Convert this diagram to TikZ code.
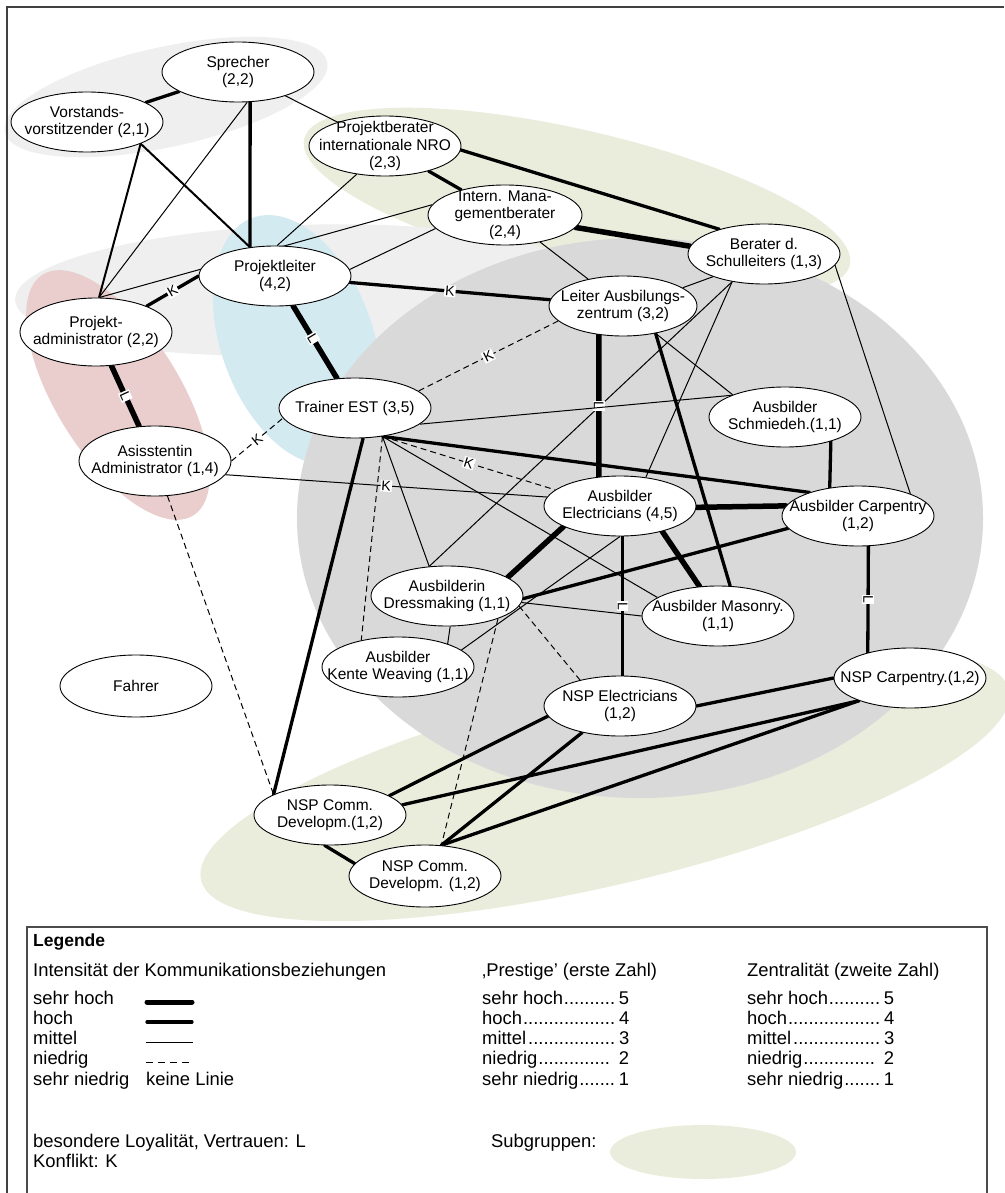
\documentclass[tikz,border=0pt]{standalone}
\usepackage{fontspec}
\setmainfont{Liberation Sans}
\usetikzlibrary{shapes.geometric}

\definecolor{sgolive}{RGB}{234,237,220}
\definecolor{sgpink}{RGB}{234,205,205}
\definecolor{sgblue}{RGB}{211,234,240}
\definecolor{sglight}{RGB}{239,239,239}
\definecolor{sggray}{RGB}{217,217,217}

\pgfdeclarelayer{blobs}
\pgfdeclarelayer{links}
\pgfsetlayers{blobs,links,main}

% one actor: an ellipse of fixed size plus its centred caption
\newcommand\person[4][]{%
  \node[person,#1] (#2) at (#3) {};
  \node[ptext] (#2-t) at (#2.center) {#4};}
% legend scale entry with dot leaders
\newcommand\legrow[2]{\hbox to 147pt{#1\leaders\hbox{.}\hfill#2}}

\tikzset{
  person/.style={ellipse, draw=black, line width=0.9pt, fill=white,
    minimum width=152pt, minimum height=60pt, inner sep=0pt},
  ptext/.style={align=center, inner sep=0pt, font=\fontsize{15.5}{17.5}\selectfont},
  vhigh/.style={line width=5.5pt, line cap=round},
  high/.style={line width=3.3pt, line cap=round},
  medhigh/.style={line width=2pt},
  mid/.style={line width=1pt},
  low/.style={line width=1pt, dash pattern=on 6pt off 4pt},
  lbl/.style={fill=white, inner sep=1pt, font=\fontsize{14}{14}\selectfont},
  legtxt/.style={anchor=west, inner sep=0pt, text height=13pt, text depth=4pt,
    font=\fontsize{18.4}{20}\selectfont},
  frameline/.style={draw=black!75, line width=1.8pt},
  legframe/.style={draw=black!70, line width=1.1pt},
}

\begin{document}
\begin{tikzpicture}[x=1pt,y=-1pt]
\useasboundingbox (0,0) rectangle (1004,1193);

% ---------- subgroups ----------
\begin{pgfonlayer}{blobs}
\fill[white] (0,0) rectangle (1004,1193);
\fill[sglight, rotate around={12.3:(166,97)}] (166,97) ellipse [x radius=165pt, y radius=50pt];
\fill[sgolive, rotate around={-13:(577,202)}] (577,202) ellipse [x radius=280pt, y radius=72pt];
\fill[sglight, rotate around={2:(300,290)}] (300,290) ellipse [x radius=285pt, y radius=65pt];
\fill[sgpink, rotate around={-58:(118,395)}] (118,395) ellipse [x radius=142pt, y radius=62pt];
\fill[sgblue, rotate around={-70:(297,340)}] (297,340) ellipse [x radius=130pt, y radius=76pt];
\fill[sgolive, rotate around={13.25:(605,785)}] (605,785) ellipse [x radius=415pt, y radius=100pt];
\fill[sggray] (640,518) ellipse [x radius=343pt, y radius=280pt];
\end{pgfonlayer}

% ---------- frame ----------
\draw[frameline] (7,1193) -- (7,7) -- (1004,7);

% ---------- actors ----------
\person{spr}{238,72}{Sprecher\\(2,2)}
\person{vor}{87,122}{Vorstands-\\vorstitzender (2,1)}
\person{pb}{385,146}{Projektberater\\internationale NRO\\(2,3)}
\person[minimum width=154pt]{imb}{505,215}{Intern. Mana-\\gementberater\\(2,4)}
\person{ber}{764,254}{Berater d.\\Schulleiters (1,3)}
\person{pl}{275,276}{Projektleiter\\(4,2)}
\person[minimum width=148pt]{leit}{623,306}{Leiter Ausbilungs-\\zentrum (3,2)}
\person[minimum height=68pt]{pa}{96,332}{Projekt-\\administrator (2,2)}
\person{tr}{355,408}{Trainer EST (3,5)}
\person{schm}{785,417}{Ausbilder\\Schmiedeh.(1,1)}
\person[minimum height=70pt]{asis}{155,461}{Asisstentin\\Administrator (1,4)}
\person{elec}{620,506}{Ausbilder\\Electricians (4,5)}
\person{acarp}{858,516}{Ausbilder Carpentry\\(1,2)}
\person{dress}{447,596}{Ausbilderin\\Dressmaking (1,1)}
\person{mas}{718,616}{Ausbilder Masonry.\\(1,1)}
\person{kente}{398,667}{Ausbilder\\Kente Weaving (1,1)}
\person{ncarp}{910,678}{NSP Carpentry.(1,2)}
\person{nelec}{620,706}{NSP Electricians\\(1,2)}
\person[minimum height=62pt]{fahr}{136,686}{Fahrer}
\person{nc1}{330,815}{NSP Comm.\\Developm.(1,2)}
\person[minimum height=62pt]{nc2}{425,876}{NSP Comm.\\Developm. (1,2)}

% ---------- relations ----------
\begin{pgfonlayer}{links}
% board and management
\draw[high] (spr) -- (vor);
\draw[high] (spr.-68) -- (pl.131);
\draw[mid] (spr.-73) -- (pa.85);
\draw[mid] (spr) -- (pb);
\draw[medhigh] (vor.-22) -- (pa.85);
\draw[medhigh] (vor.-22) -- (pl.131);
\draw[mid] (pb.-135) -- (pl.86);
\draw[high] (pb) -- (imb);
\draw[high] (pb.-3) -- (ber.151);
\draw[vhigh] (imb.-10) -- (ber.174);
\draw[mid] (imb) -- (leit);
\draw[mid] (imb.-169) -- (pl.5);
\draw[mid] (imb.172) -- (pa.85);
\draw[high] (pl) -- node[lbl, sloped]{K} (leit);
\draw[high] (pl.180) -- node[lbl, sloped]{K} (pa.27);
\draw[vhigh] (pl) -- node[lbl, sloped, pos=0.45]{L} (tr);
\draw[vhigh] (pa) -- node[lbl, sloped]{L} (asis);
% training centre
\draw[mid] (leit.17) -- (ber.-156);
\draw[mid] (ber.-139) -- (dress.121);
\draw[mid] (ber.-139) -- (elec.48);
\draw[mid] (ber.-9) -- (acarp.23);
\draw[mid] (leit.-40) -- (schm.157);
\draw[high] (leit.-40) -- (mas.68);
\draw[vhigh] (leit.-130) -- node[lbl, rotate=-90]{L} (elec.126);
\draw[low] (leit.-167) -- node[lbl, sloped]{K} (tr.15);
\draw[mid] (tr.-14) -- (schm.158);
\draw[high] (schm.-28) -- (acarp.135);
\draw[high] (tr.-46) -- (acarp.154);
\draw[low] (tr.-46) -- node[lbl, sloped]{K} (elec.166);
\draw[mid] (tr.-46) -- (mas.163);
\draw[mid] (tr.-46) -- (dress.121);
\draw[low] (tr.-46) -- (kente.144);
\draw[high] (tr.-75) -- (nc1.160);
\draw[low] (asis) -- (nc1.160);
\draw[low] (asis.0) -- node[lbl, sloped]{K} (tr.-172);
\draw[mid] (asis.-11) -- node[lbl, sloped]{K} (elec.173);
\draw[vhigh] (elec.-1) -- (acarp.172);
\draw[vhigh] (elec.-160) -- (dress.17);
\draw[vhigh] (elec.-31) -- (mas.122);
\draw[high] (elec.-85) -- node[lbl, rotate=-90]{L} (nelec.85);
\draw[mid] (elec.-90) -- (kente.15);
\draw[high] (dress.-2) -- (acarp.-170);
\draw[mid] (dress.-5) -- (mas.180);
\draw[low] (dress.-8) -- (nelec.147);
\draw[mid] (dress.-84) -- (kente.25);
\draw[low] (dress.-24) -- (nc2.62);
% apprentices
\draw[high] (nelec.0) -- (ncarp.180);
\draw[high] (nelec.-172) -- (nc1.18);
\draw[high] (nelec.-145) -- (nc2.62);
\draw[high] (ncarp.-156) -- (nc1.8);
\draw[high] (ncarp.-156) -- (nc2.62);
\draw[high] (nc1.-100) -- (nc2.170);
\draw[high] (acarp.-71) -- node[lbl, rotate=-90]{L} (ncarp.149);
\end{pgfonlayer}

% ---------- legend ----------
\draw[legframe] (27,1193) -- (27,927) -- (987,927) -- (987,1193);
\node[legtxt, font=\fontsize{17.5}{20}\bfseries] (lg-title) at (33,942) {Legende};
\node[legtxt] (lg-int) at (33,972) {Intensität der Kommunikationsbeziehungen};
\node[legtxt] (lg-pre) at (482,972) {‚Prestige’ (erste Zahl)};
\node[legtxt] (lg-zen) at (747,972) {Zentralität (zweite Zahl)};

\node[legtxt] (lg-i1) at (33,1000) {sehr hoch};
\node[legtxt] (lg-i2) at (33,1020) {hoch};
\node[legtxt] (lg-i3) at (33,1040) {mittel};
\node[legtxt] (lg-i4) at (33,1060) {niedrig};
\node[legtxt] (lg-i5) at (33,1081) {sehr niedrig};
\node[legtxt] (lg-none) at (146,1081) {keine Linie};
\coordinate (s1a) at (147,1002); \coordinate (s1b) at (192,1002);
\coordinate (s2a) at (147,1022); \coordinate (s2b) at (192,1022);
\coordinate (s3a) at (146,1042); \coordinate (s3b) at (193,1042);
\coordinate (s4a) at (146,1062); \coordinate (s4b) at (193,1062);
\draw[line width=5pt, line cap=round] (s1a) -- (s1b);
\draw[line width=3.3pt, line cap=round] (s2a) -- (s2b);
\draw[line width=0.9pt] (s3a) -- (s3b);
\draw[line width=0.9pt, dash pattern=on 7pt off 5pt] (s4a) -- (s4b);

\node[legtxt] (lg-p1) at (482,1000) {\legrow{sehr hoch}{5}};
\node[legtxt] (lg-p2) at (482,1020) {\legrow{hoch}{4}};
\node[legtxt] (lg-p3) at (482,1040) {\legrow{mittel}{3}};
\node[legtxt] (lg-p4) at (482,1060) {\legrow{niedrig}{\ 2}};
\node[legtxt] (lg-p5) at (482,1081) {\legrow{sehr niedrig}{1}};

\node[legtxt] (lg-z1) at (747,1000) {\legrow{sehr hoch}{5}};
\node[legtxt] (lg-z2) at (747,1020) {\legrow{hoch}{4}};
\node[legtxt] (lg-z3) at (747,1040) {\legrow{mittel}{3}};
\node[legtxt] (lg-z4) at (747,1060) {\legrow{niedrig}{\ 2}};
\node[legtxt] (lg-z5) at (747,1081) {\legrow{sehr niedrig}{1}};

\node[legtxt] (lg-loy) at (33,1143) {besondere Loyalität, Vertrauen: L};
\node[legtxt] (lg-kon) at (33,1163) {Konflikt: K};
\node[legtxt] (lg-sub) at (491,1143) {Subgruppen:};
\fill[sgolive] (703,1152) ellipse [x radius=93pt, y radius=27pt];
\end{tikzpicture}
\end{document}
